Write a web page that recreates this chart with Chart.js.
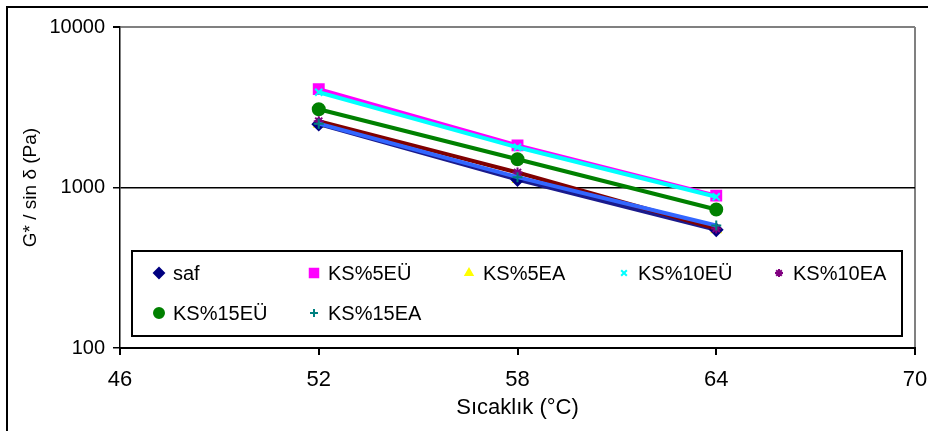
<!DOCTYPE html>
<html>
<head>
<meta charset="utf-8">
<script src="https://cdn.jsdelivr.net/npm/chart.js@4"></script>
<style>
  html, body { margin: 0; padding: 0; background: #fff; }
  #wrap { width: 928px; height: 431px; }
</style>
</head>
<body>
<div id="wrap"><canvas id="chart" width="928" height="431"></canvas></div>
<script>
// temperatures (x) and G*/sin d values
const temps = [52, 58, 64];
const saf = [2480, 1120, 545];
const ks5EU = [4100, 1830, 890];
const ks5EA = [2480, 1120, 545];
const ks10EU = [3920, 1780, 875];
const ks10EA = [2590, 1240, 555];
const ks15EU = [3070, 1500, 730];
const ks15EA = [2500, 1160, 580];

const xTicks = [46, 52, 58, 64, 70];
const yTicks = [100, 1000, 10000];

const pts = (vals) => temps.map((t, i) => ({ x: t, y: vals[i] }));

const series = [
  { label: 'saf', data: saf, line: '#1a1a8c', point: '#000080', style: 'rectRot', r: 6, order: 3 },
  { label: 'KS%5EÜ', data: ks5EU, line: '#ff00ff', point: '#ff00ff', style: 'rect', r: 7, order: 6 },
  { label: 'KS%5EA', data: ks5EA, line: null, point: '#ffff00', style: 'triangle', r: 5, order: 10 },
  { label: 'KS%10EÜ', data: ks10EU, line: '#00ffff', point: '#00ffff', style: 'crossRot', r: 5, order: 5 },
  { label: 'KS%10EA', data: ks10EA, line: '#800000', point: '#800080', style: 'star', r: 5, order: 2 },
  { label: 'KS%15EÜ', data: ks15EU, line: '#008000', point: '#008000', style: 'circle', r: 6, order: 4 },
  { label: 'KS%15EA', data: ks15EA, line: '#3366ff', point: '#008080', style: 'cross', r: 5, order: 1 }
];

const datasets = series.map(s => ({
  label: s.label,
  data: pts(s.data),
  showLine: !!s.line,
  borderColor: s.line || s.point,
  borderWidth: 4,
  tension: 0,
  pointStyle: s.style,
  pointRadius: s.r,
  pointBorderColor: s.point,
  pointBackgroundColor: s.point,
  pointBorderWidth: 2,
  order: s.order
}));

// frame round the whole chart and legend box inside the plot
const framePlugin = {
  id: 'frame',
  beforeDraw(chart) {
    const ctx = chart.ctx;
    ctx.save();
    ctx.fillStyle = '#fff';
    ctx.fillRect(0, 0, chart.width, chart.height);
    ctx.strokeStyle = '#000';
    ctx.lineWidth = 2;
    ctx.beginPath();
    ctx.moveTo(7, chart.height + 5);
    ctx.lineTo(7, 7);
    ctx.lineTo(chart.width + 5, 7);
    ctx.stroke();
    ctx.restore();
  },
  afterDraw(chart) {
    const ctx = chart.ctx;
    const a = chart.chartArea;
    const box = { left: a.left + 12, top: 251, right: a.right - 13, bottom: 336 };
    ctx.save();
    ctx.fillStyle = '#fff';
    ctx.fillRect(box.left, box.top, box.right - box.left, box.bottom - box.top);
    ctx.strokeStyle = '#000';
    ctx.lineWidth = 2;
    ctx.strokeRect(box.left, box.top, box.right - box.left, box.bottom - box.top);
    ctx.font = '20px "Liberation Sans", Arial, sans-serif';
    ctx.textBaseline = 'middle';
    series.forEach((s, i) => {
      const col = i % 5, row = Math.floor(i / 5);
      const mx = box.left + 27 + col * 155;
      const my = box.top + 22 + row * 40;
      ctx.fillStyle = s.point;
      ctx.strokeStyle = s.point;
      ctx.lineWidth = 2;
      Chart.helpers.drawPoint(ctx, { pointStyle: s.style, radius: s.r - 1, rotation: 0, borderWidth: 2 }, mx, my);
      ctx.fillStyle = '#000';
      ctx.fillText(s.label, mx + 14, my + 1);
    });
    ctx.restore();
  }
};

new Chart(document.getElementById('chart'), {
  type: 'scatter',
  data: { datasets: datasets },
  options: {
    responsive: false,
    animation: false,
    layout: { padding: { left: 0, top: 27, right: 13, bottom: 0 } },
    plugins: { legend: { display: false }, tooltip: { enabled: false } },
    scales: {
      x: {
        type: 'linear',
        min: 46,
        max: 70,
        afterBuildTicks: (scale) => { scale.ticks = xTicks.map(v => ({ value: v })); },
        afterFit: (scale) => {
          scale.height = 83;
          scale.paddingLeft = 0;
          scale.paddingRight = 0;
        },
        ticks: {
          color: '#000',
          padding: 12,
          font: { family: '"Liberation Sans", Arial', size: 22 }
        },
        grid: {
          color: (c) => (c.tick && c.tick.value === 70 ? '#808080' : 'rgba(0,0,0,0)'),
          lineWidth: 2,
          tickColor: '#000',
          tickLength: 7,
          drawOnChartArea: true
        },
        border: { color: '#000', width: 2 },
        title: {
          display: true,
          text: 'Sıcaklık (°C)',
          color: '#000',
          padding: { top: 0, bottom: 10 },
          font: { family: '"Liberation Sans", Arial', size: 22 }
        }
      },
      y: {
        type: 'logarithmic',
        min: 100,
        max: 10000,
        afterBuildTicks: (scale) => { scale.ticks = yTicks.map(v => ({ value: v })); },
        afterFit: (scale) => { scale.width = 120; },
        ticks: {
          color: '#000',
          padding: 8,
          callback: (v) => String(v),
          font: { family: '"Liberation Sans", Arial', size: 20 }
        },
        grid: {
          color: (c) => {
            if (!c.tick) return 'rgba(0,0,0,0)';
            if (c.tick.value === 1000) return '#000';
            if (c.tick.value === 10000) return '#808080';
            return 'rgba(0,0,0,0)';
          },
          lineWidth: (c) => (c.tick && c.tick.value === 10000 ? 2 : 1.5),
          tickColor: '#000',
          tickLength: 7
        },
        border: { color: '#000', width: 1.5 },
        title: {
          display: true,
          text: 'G* / sin δ (Pa)',
          color: '#000',
          padding: { top: 19, bottom: 0 },
          font: { family: '"Liberation Sans", Arial', size: 19 }
        }
      }
    }
  },
  plugins: [framePlugin]
});
</script>
</body>
</html>
